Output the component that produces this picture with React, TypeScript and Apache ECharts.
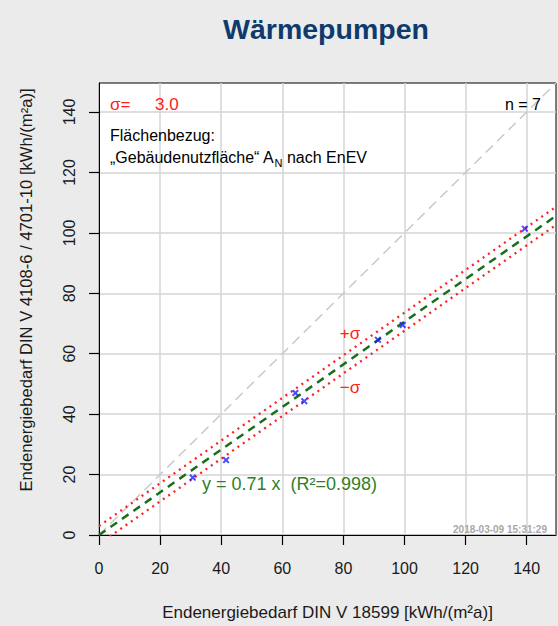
import React, { useEffect, useRef } from "react";
import * as echarts from "echarts";

const xTicks = [0, 20, 40, 60, 80, 100, 120, 140];
const yTicks = [0, 20, 40, 60, 80, 100, 120, 140];
const xValues = [30.7, 41.6, 64.3, 67.2, 91.3, 99.4, 139.4];
const yValues = [19.0, 24.8, 47.0, 44.3, 64.6, 69.5, 101.4];
const slope = 0.706;
const sigma = 3.0;
const axisMax = 149.6;
const titleText = "Wärmepumpen";
const xName = "Endenergiebedarf DIN V 18599 [kWh/(m²a)]";
const yName = "Endenergiebedarf DIN V 4108-6 / 4701-10 [kWh/(m²a)]";
const timestamp = "2018-03-09 15:31:29";

const FONT = "'Liberation Sans', Arial, sans-serif";

export default function App() {
  const ref = useRef<HTMLDivElement>(null);
  useEffect(() => {
    document.body.style.margin = "0";
    const chart = echarts.init(ref.current!, null, { renderer: "svg" });
    const points = xValues.map((x, i) => [x, yValues[i]]);
    const axisCommon = {
      type: "value",
      min: 0,
      max: axisMax,
      interval: 20,
      axisLine: { show: true, lineStyle: { color: "#000", width: 1 } },
      axisTick: { show: true, inside: false, length: 10, lineStyle: { color: "#000", width: 1.2 } },
      splitLine: { show: true, lineStyle: { color: "#D4D4D4", width: 1.5 } },
    };
    chart.setOption({
      animation: false,
      backgroundColor: "#EBEBEB",
      textStyle: { fontFamily: FONT },
      grid: {
        left: 99,
        right: 2,
        top: 83,
        bottom: 89,
        show: true,
        backgroundColor: "#FFFFFF",
        borderColor: "#000",
        borderWidth: 1,
      },
      xAxis: {
        ...axisCommon,
        axisTick: { ...axisCommon.axisTick, customValues: xTicks },
        axisLabel: {
          customValues: xTicks,
          fontSize: 16,
          color: "#1a1a1a",
          margin: 25,
          fontFamily: FONT,
        },
        name: xName,
        nameLocation: "middle",
        nameGap: 69,
        nameTextStyle: { fontSize: 17, color: "#1a1a1a", fontFamily: FONT },
      },
      yAxis: {
        ...axisCommon,
        axisTick: { ...axisCommon.axisTick, customValues: yTicks },
        axisLabel: {
          customValues: yTicks,
          fontSize: 16,
          color: "#1a1a1a",
          margin: 22,
          rotate: 90,
          fontFamily: FONT,
        },
      },
      graphic: [
        {
          type: "text",
          x: 326,
          y: 29,
          style: {
            text: titleText,
            font: `bold 28.5px ${FONT}`,
            fill: "#0E3A6C",
            textAlign: "center",
            textVerticalAlign: "middle",
          },
        },
        {
          type: "text",
          x: 26,
          y: 290,
          rotation: Math.PI / 2,
          style: {
            text: yName,
            font: `16.6px ${FONT}`,
            fill: "#1a1a1a",
            textAlign: "center",
            textVerticalAlign: "middle",
          },
        },
        {
          type: "text",
          x: 110,
          y: 104,
          z: 100,
          style: { text: "σ=", font: `17px ${FONT}`, fill: "#FF2020", textAlign: "left", textVerticalAlign: "middle" },
        },
        {
          type: "text",
          x: 155,
          y: 104,
          z: 100,
          style: { text: sigma.toFixed(1), font: `17px ${FONT}`, fill: "#FF2020", textAlign: "left", textVerticalAlign: "middle" },
        },
        {
          type: "text",
          x: 541,
          y: 104,
          z: 100,
          style: { text: "n = " + xValues.length, font: `16px ${FONT}`, fill: "#000", textAlign: "right", textVerticalAlign: "middle" },
        },
        {
          type: "text",
          x: 110,
          y: 135,
          z: 100,
          style: { text: "Flächenbezug:", font: `16px ${FONT}`, fill: "#000", textAlign: "left", textVerticalAlign: "middle" },
        },
        {
          type: "text",
          x: 110,
          y: 157,
          z: 100,
          style: {
            text: "{a|„Gebäudenutzfläche“ A}{s|N}{a| nach EnEV}",
            textAlign: "left",
            textVerticalAlign: "middle",
            rich: {
              a: { font: `16px ${FONT}`, fill: "#000", lineHeight: 22, verticalAlign: "middle" },
              s: { font: `11px ${FONT}`, fill: "#000", lineHeight: 11, verticalAlign: "bottom" },
            },
          },
        },
        {
          type: "text",
          x: 350,
          y: 333,
          z: 100,
          style: { text: "+σ", font: `17px ${FONT}`, fill: "#FF2020", textAlign: "center", textVerticalAlign: "middle" },
        },
        {
          type: "text",
          x: 350,
          y: 387,
          z: 100,
          style: { text: "−σ", font: `17px ${FONT}`, fill: "#FF2020", textAlign: "center", textVerticalAlign: "middle" },
        },
        {
          type: "text",
          x: 202,
          y: 484,
          z: 100,
          style: {
            text: "y = " + (Math.round(slope * 100) / 100).toFixed(2) + " x  (R²=0.998)",
            font: `18px ${FONT}`,
            fill: "#2F7F2A",
            textAlign: "left",
            textVerticalAlign: "middle",
          },
        },
        {
          type: "text",
          x: 547,
          y: 529,
          z: 100,
          style: { text: timestamp, font: `bold 10px ${FONT}`, fill: "#A8A8A8", textAlign: "right", textVerticalAlign: "middle" },
        },
      ],
      series: [
        {
          type: "line",
          data: [[0, 0], [axisMax, axisMax]],
          symbol: "none",
          clip: true,
          lineStyle: { color: "#C8C8C8", width: 1.5, type: [10, 6] },
          z: 2,
        },
        {
          type: "line",
          data: [[0, sigma], [axisMax, slope * axisMax + sigma]],
          symbol: "none",
          clip: true,
          lineStyle: { color: "#FF2020", width: 2.3, type: [2, 4.5] },
          z: 3,
        },
        {
          type: "line",
          data: [[0, -sigma], [axisMax, slope * axisMax - sigma]],
          symbol: "none",
          clip: true,
          lineStyle: { color: "#FF2020", width: 2.3, type: [2, 4.5] },
          z: 3,
        },
        {
          type: "line",
          data: [[0, 0], [axisMax, slope * axisMax]],
          symbol: "none",
          clip: true,
          lineStyle: { color: "#1A6E1A", width: 2.5, type: [8, 6] },
          z: 4,
        },
        {
          type: "scatter",
          data: points,
          symbol: "path://M0,2L2,0L5,3L8,0L10,2L7,5L10,8L8,10L5,7L2,10L0,8L3,5Z",
          symbolSize: 7,
          itemStyle: { color: "#1E1EFF" },
          z: 5,
        },
      ],
    });
    return () => chart.dispose();
  }, []);
  return <div ref={ref} style={{ width: 558, height: 626 }} />;
}
